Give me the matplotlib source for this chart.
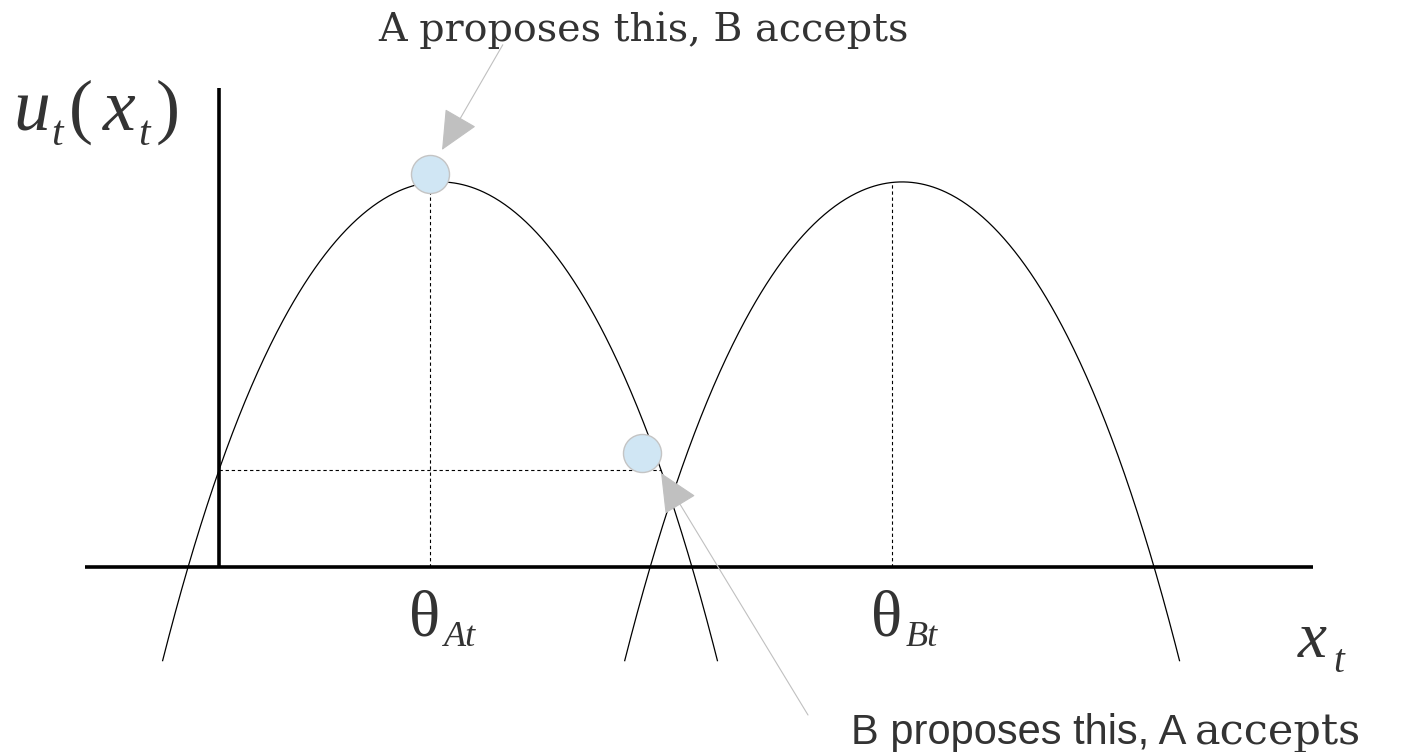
#!/usr/bin/env python3
"""
Bargaining sketch: two single-peaked utility curves u_t(x_t) with ideal
points theta_At / theta_Bt and the two proposals.

Output:
  out.png
"""

import numpy as np
import matplotlib
matplotlib.use("Agg")
import matplotlib.pyplot as plt

# ── Figure / data-unit layout ────────────────────────────────────────────────
W_PX, H_PX = 1417, 752
DPI = 100
PX = 105.5           # pixels per data unit
X0, Y0 = 219, 567    # pixel position of the origin

# ── Data ─────────────────────────────────────────────────────────────────────
PLAYERS = ["A", "B"]
THETA = [2.0, 6.38]          # ideal points theta_At, theta_Bt
PEAK = [3.65, 3.65]          # utility at the ideal point
CURV = 0.563                 # quadratic loss coefficient
QUART = 0.0135               # small quartic term
SHIFT = 0.095                # curve centre sits a bit right of theta
U_MIN = -0.91                # curves are drawn down to this level

PROP_X = [2.0, 4.005]        # proposals (A's, B's)
PROP_Y = [3.725, 1.085]

# ── Colours ──────────────────────────────────────────────────────────────────
INK = "#333333"
DOT_FACE = "#d0e6f4"
DOT_EDGE = "#c4c4c4"
ARROW = "#c0c0c0"

SERIF = "Liberation Serif"
SERIF2 = "DejaVu Serif"
SANS = "Liberation Sans"


def utility(x, i):
    d = x - (THETA[i] + SHIFT)
    return PEAK[i] - CURV * d ** 2 - QUART * d ** 4


fig = plt.figure(figsize=(W_PX / DPI, H_PX / DPI), dpi=DPI)
ax = fig.add_axes([0, 0, 1, 1])
ax.set_xlim(-X0 / PX, (W_PX - X0) / PX)
ax.set_ylim(-(H_PX - Y0) / PX, Y0 / PX)
ax.axis("off")

# ── Axes lines ───────────────────────────────────────────────────────────────
ax.plot([-1.27, 10.37], [0, 0], color="black", lw=2.6, solid_capstyle="butt", zorder=2)
ax.plot([0, 0], [0, 4.54], color="black", lw=2.6, solid_capstyle="butt", zorder=2)

# ── Utility curves ───────────────────────────────────────────────────────────
for i in range(len(PLAYERS)):
    c = THETA[i] + SHIFT
    xs = np.linspace(c - 3.0, c + 3.0, 600)
    us = utility(xs, i)
    keep = us >= U_MIN
    ax.plot(xs[keep], us[keep], color="black", lw=0.9, zorder=3)
    # dashed drop line at the ideal point
    ax.plot([THETA[i], THETA[i]], [0, utility(THETA[i], i)],
            color="black", lw=0.8, dashes=(3, 2.5), zorder=2)

# horizontal guide: A's utility of the status quo (x = 0)
u0 = utility(0.0, 0)
ax.plot([0, 2 * (THETA[0] + SHIFT)], [u0, u0],
        color="black", lw=0.8, dashes=(3, 2.5), zorder=2)

# ── Proposals ────────────────────────────────────────────────────────────────
ax.scatter(PROP_X, PROP_Y, s=750, facecolor=DOT_FACE, edgecolor=DOT_EDGE,
           linewidths=1.0, zorder=5)

# ── Arrows + captions ────────────────────────────────────────────────────────
akw = dict(arrowstyle="-|>,head_length=1.4,head_width=0.65",
           color=ARROW, lw=0.8, mutation_scale=18, shrinkA=0, shrinkB=0)
ax.annotate("", xy=(2.114, 3.953), xytext=(2.69, 4.95), arrowprops=akw, zorder=4)
ax.annotate("", xy=(4.19, 0.891), xytext=(5.583, -1.403), arrowprops=akw, zorder=4)

ax.text(4.02, 4.985, "A proposes this, B accepts", ha="center", va="baseline",
        fontsize=28.5, family=SERIF2, color=INK)

t1 = ax.text(5.99, -1.68, "B proposes this, A", ha="left", va="baseline",
             fontsize=30, family=SANS, color=INK)
ax.annotate("accepts", xy=(1, 0), xycoords=t1, xytext=(6, 0),
            textcoords="offset points", ha="left", va="bottom",
            fontsize=31, family=SERIF2, color=INK)

# ── Axis labels: u_t( x_t) ───────────────────────────────────────────────────
it = dict(family=SERIF, style="italic", color=INK, va="baseline", ha="left")
up = dict(family=SERIF, color=INK, va="baseline", ha="left")
ax.text(-1.95, 4.142, "u", fontsize=53, **it)
ax.text(-1.59, 4.00, "t", fontsize=30, **it)
ax.text(-1.42, 4.142, "(", fontsize=52, **up)
ax.text(-1.10, 4.142, "x", fontsize=53, **it)
ax.text(-0.77, 4.00, "t", fontsize=30, **it)
ax.text(-0.60, 4.142, ")", fontsize=52, **up)

# x_t
ax.text(10.227, -0.853, "x", fontsize=47, **it)
ax.text(10.56, -0.995, "t", fontsize=28, **it)

# theta labels
for i, p in enumerate(PLAYERS):
    ax.text(THETA[i] - 0.05, -0.645, "\u03b8", fontsize=47, family=SERIF,
            color=INK, ha="center", va="baseline")
    ax.text(THETA[i] + 0.13, -0.75, p + "t", fontsize=26, **it)

fig.savefig("out.png", dpi=DPI, facecolor="white")
plt.close(fig)
